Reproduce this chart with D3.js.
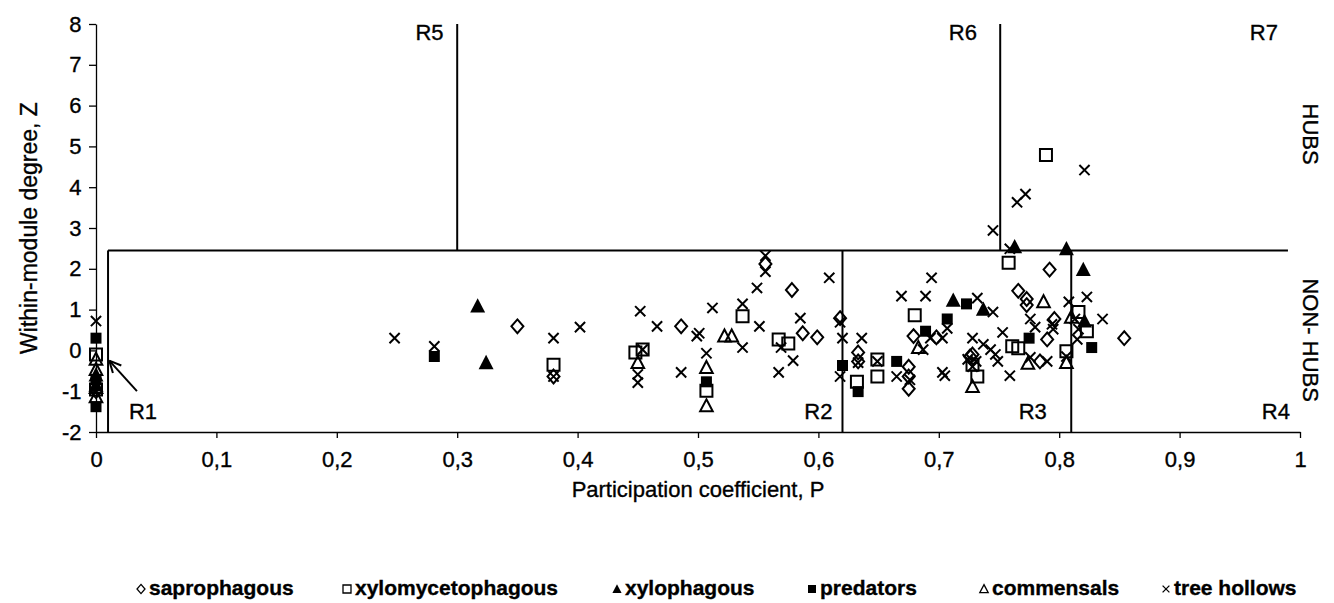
<!DOCTYPE html>
<html><head><meta charset="utf-8">
<script src="https://cdn.jsdelivr.net/npm/d3@7"></script>
<style>
body{margin:0;background:#fff;}
svg text{font-family:"Liberation Sans",Arial,sans-serif;fill:#000;stroke:#000;stroke-width:0.35px;}
</style></head>
<body><svg id="c" width="1334" height="603"></svg>
<script>
// ---- data: [P, Z] pairs per group ----
const saprophagous = [[0,-1.0],[0.350,0.59],[0.380,-0.64],[0.486,0.59],[0.556,2.12],[0.578,1.48],[0.587,0.42],[0.599,0.32],[0.618,0.79],[0.633,-0.05],[0.633,-0.27],[0.675,-0.40],[0.675,-0.64],[0.675,-0.94],[0.679,0.35],[0.698,0.32],[0.726,-0.15],[0.728,-0.10],[0.766,1.46],[0.773,1.26],[0.773,1.11],[0.792,1.98],[0.796,0.77],[0.790,0.27],[0.784,-0.27],[0.854,0.30]];
const xylomycetophagous = [[0,-0.1],[0,-0.96],[0.380,-0.35],[0.454,0.02],[0.448,-0.05],[0.507,-0.99],[0.537,0.84],[0.567,0.27],[0.575,0.17],[0.632,-0.77],[0.649,-0.22],[0.649,-0.64],[0.680,0.86],[0.728,-0.35],[0.732,-0.64],[0.758,2.15],[0.761,0.10],[0.766,0.05],[0.789,4.79],[0.806,-0.02],[0.816,0.94],[0.823,0.47]];
const xylophagous = [[0,-0.6],[0,-0.85],[0.317,1.09],[0.324,-0.30],[0.712,1.23],[0.737,1.01],[0.763,2.54],[0.806,2.49],[0.820,1.98],[0.821,0.72]];
const predators = [[0,0.3],[0,-0.72],[0,-1.38],[0.281,-0.15],[0.507,-0.77],[0.620,-0.37],[0.633,-1.01],[0.665,-0.27],[0.689,0.47],[0.707,0.77],[0.723,1.14],[0.775,0.30],[0.827,0.07]];
const commensals = [[0,-0.22],[0,-0.47],[0,-0.91],[0,-1.14],[0.450,-0.30],[0.507,-0.42],[0.507,-1.36],[0.522,0.35],[0.528,0.35],[0.683,0.07],[0.728,-0.89],[0.774,-0.32],[0.787,1.19],[0.806,-0.30],[0.810,0.81]];
const treeHollows = [[0,0.72],[0.248,0.30],[0.281,0.10],[0.380,0.30],[0.380,-0.64],[0.402,0.57],[0.452,0.96],[0.454,0.02],[0.450,-0.59],[0.450,-0.79],[0.466,0.59],[0.486,-0.54],[0.499,0.35],[0.501,0.42],[0.507,-0.07],[0.512,1.04],[0.537,1.14],[0.537,0.07],[0.549,1.53],[0.556,1.93],[0.556,2.32],[0.551,0.59],[0.569,0.07],[0.579,-0.25],[0.567,-0.54],[0.585,0.79],[0.609,1.78],[0.618,0.69],[0.620,0.30],[0.618,-0.64],[0.636,0.30],[0.633,-0.30],[0.649,-0.27],[0.665,-0.64],[0.676,-0.72],[0.669,1.33],[0.689,1.33],[0.694,1.78],[0.693,0.30],[0.687,0.02],[0.703,0.30],[0.707,0.54],[0.703,-0.54],[0.705,-0.62],[0.728,-0.40],[0.731,-0.27],[0.728,0.30],[0.732,1.28],[0.745,0.94],[0.745,2.94],[0.759,2.49],[0.765,3.63],[0.772,3.83],[0.821,4.42],[0.753,0.44],[0.743,0.02],[0.747,-0.10],[0.749,-0.27],[0.759,-0.62],[0.776,0.77],[0.780,0.57],[0.794,0.64],[0.795,0.52],[0.790,-0.27],[0.776,-0.17],[0.808,1.19],[0.823,1.31],[0.813,0.77],[0.816,0.52],[0.815,0.27],[0.836,0.77],[0.806,-0.15],[0.724,-0.22],[0.737,0.15]];

const groupNames = ["saprophagous","xylomycetophagous","xylophagous","predators","commensals","tree hollows"];
const groupShapes = ["diamond","square","triangleFilled","squareFilled","triangle","cross"];
const groupData = [saprophagous,xylomycetophagous,xylophagous,predators,commensals,treeHollows];

const xTicks = [0,0.1,0.2,0.3,0.4,0.5,0.6,0.7,0.8,0.9,1];
const yTicks = [-2,-1,0,1,2,3,4,5,6,7,8];

// role thresholds
const hubZ = 2.45;
const lowerBounds = [0.01,0.62,0.81];   // R1|R2, R2|R3, R3|R4
const upperBounds = [0.3,0.751];        // R5|R6, R6|R7
const hubLineEnd = 0.99;
const regionLabels = [
  {t:"R1",p:0.039,z:-1.55},{t:"R2",p:0.6,z:-1.55},{t:"R3",p:0.778,z:-1.55},{t:"R4",p:0.98,z:-1.55},
  {t:"R5",p:0.277,z:7.75},{t:"R6",p:0.72,z:7.75},{t:"R7",p:0.97,z:7.75}];

// ---- drawing ----
const svg = d3.select("#c");
const x = d3.scaleLinear().domain([0,1]).range([96,1300]);
const y = d3.scaleLinear().domain([-2,8]).range([432,24]);

const fmtX = d => (d===0||d===1) ? String(d) : d3.format(".1f")(d).replace(".",",");
const gx = svg.append("g").attr("transform",`translate(0,${y(-2)})`)
  .call(d3.axisBottom(x).tickValues(xTicks).tickFormat(fmtX).tickSize(6).tickSizeOuter(0));
const gy = svg.append("g").attr("transform",`translate(${x(0)},0)`)
  .call(d3.axisLeft(y).tickValues(yTicks).tickFormat(d=>String(d)).tickSize(7).tickSizeOuter(0));
[gx,gy].forEach(g=>{
  g.selectAll("path,line").attr("stroke","#000").attr("stroke-width",1.3);
  g.selectAll("text").attr("font-size",22).attr("font-family","Liberation Sans, Arial, sans-serif").attr("fill","#000");
});
gx.selectAll("text").attr("dy","1.2em");
gy.selectAll("text").attr("dx","-0.2em");

// threshold lines
const L = svg.append("g").attr("stroke","#000").attr("stroke-width",2);
L.append("line").attr("x1",x(lowerBounds[0])).attr("x2",x(hubLineEnd)).attr("y1",y(hubZ)).attr("y2",y(hubZ));
lowerBounds.forEach(p=>L.append("line").attr("x1",x(p)).attr("x2",x(p)).attr("y1",y(-2)).attr("y2",y(hubZ)));
upperBounds.forEach(p=>L.append("line").attr("x1",x(p)).attr("x2",x(p)).attr("y1",y(8)).attr("y2",y(hubZ)));

// arrow to R1 cluster
const ax0 = x(0.034), ay0 = y(-1.0), ax1 = x(0.011), ay1 = y(-0.25);
L.append("line").attr("x1",ax0).attr("y1",ay0).attr("x2",ax1).attr("y2",ay1);
const ang = Math.atan2(ay0-ay1, ax0-ax1);
[0.45,-0.45].forEach(da=>{
  L.append("line").attr("x1",ax1).attr("y1",ay1)
   .attr("x2",ax1+13*Math.cos(ang+da)).attr("y2",ay1+13*Math.sin(ang+da));
});

// region labels
svg.append("g").selectAll("text").data(regionLabels).join("text")
  .attr("x",d=>x(d.p)).attr("y",d=>y(d.z)).attr("text-anchor","middle")
  .attr("dominant-baseline","middle").attr("font-size",22).text(d=>d.t);

// HUBS / NON-HUBS
svg.append("text").attr("transform",`translate(1303,${y(5.3)}) rotate(90)`)
  .attr("text-anchor","middle").attr("font-size",22).text("HUBS");
svg.append("text").attr("transform",`translate(1303,${y(0.25)}) rotate(90)`)
  .attr("text-anchor","middle").attr("font-size",22).text("NON- HUBS");

// axis titles
svg.append("text").attr("x",(x(0)+x(1))/2).attr("y",497).attr("text-anchor","middle")
  .attr("font-size",22).text("Participation coefficient, P");
svg.append("text").attr("transform",`translate(37,${y(3)}) rotate(-90)`)
  .attr("text-anchor","middle").attr("font-size",23).text("Within-module degree, Z");

// markers
function marker(sel, shape, s){
  const h = s/2;
  if(shape==="diamond") sel.append("path").attr("d",`M0,${-h*1.15}L${h},0L0,${h*1.15}L${-h},0Z`).attr("fill","none").attr("stroke","#000").attr("stroke-width",s>8?2:1.3);
  else if(shape==="square") sel.append("path").attr("d",`M${-h},${-h}H${h}V${h}H${-h}Z`).attr("fill","none").attr("stroke","#000").attr("stroke-width",s>8?2:1.3);
  else if(shape==="squareFilled") sel.append("path").attr("d",`M${-h},${-h}H${h}V${h}H${-h}Z`).attr("fill","#000");
  else if(shape==="triangle") sel.append("path").attr("d",`M0,${-h*1.1}L${h*1.05},${h*0.9}L${-h*1.05},${h*0.9}Z`).attr("fill","none").attr("stroke","#000").attr("stroke-width",s>8?2:1.3);
  else if(shape==="triangleFilled") sel.append("path").attr("d",`M0,${-h*1.2}L${h*1.15},${h}L${-h*1.15},${h}Z`).attr("fill","#000");
  else if(shape==="cross") sel.append("path").attr("d",`M${-h*0.85},${-h*0.85}L${h*0.85},${h*0.85}M${h*0.85},${-h*0.85}L${-h*0.85},${h*0.85}`).attr("fill","none").attr("stroke","#000").attr("stroke-width",s>8?2:1.3);
}
const sizes = [12,12,13,11,12,12];
groupData.forEach((arr,gi)=>{
  svg.append("g").selectAll("g").data(arr).join("g")
    .attr("transform",d=>`translate(${x(d[0])},${y(d[1])})`)
    .each(function(){ marker(d3.select(this), groupShapes[gi], sizes[gi]); });
});

// legend
const legX = [141,347,617,812,984,1166];
const lg = svg.append("g");
groupNames.forEach((n,i)=>{
  const g = lg.append("g").attr("transform",`translate(${legX[i]},589)`);
  marker(g, groupShapes[i], 8);
  g.append("text").attr("x",8).attr("y",0).attr("dominant-baseline","middle")
   .attr("font-family","Liberation Sans Narrow, Liberation Sans, Arial, sans-serif")
   .attr("font-weight","bold").attr("font-size",21).attr("stroke-width",0).text(n);
});
</script></body></html>
